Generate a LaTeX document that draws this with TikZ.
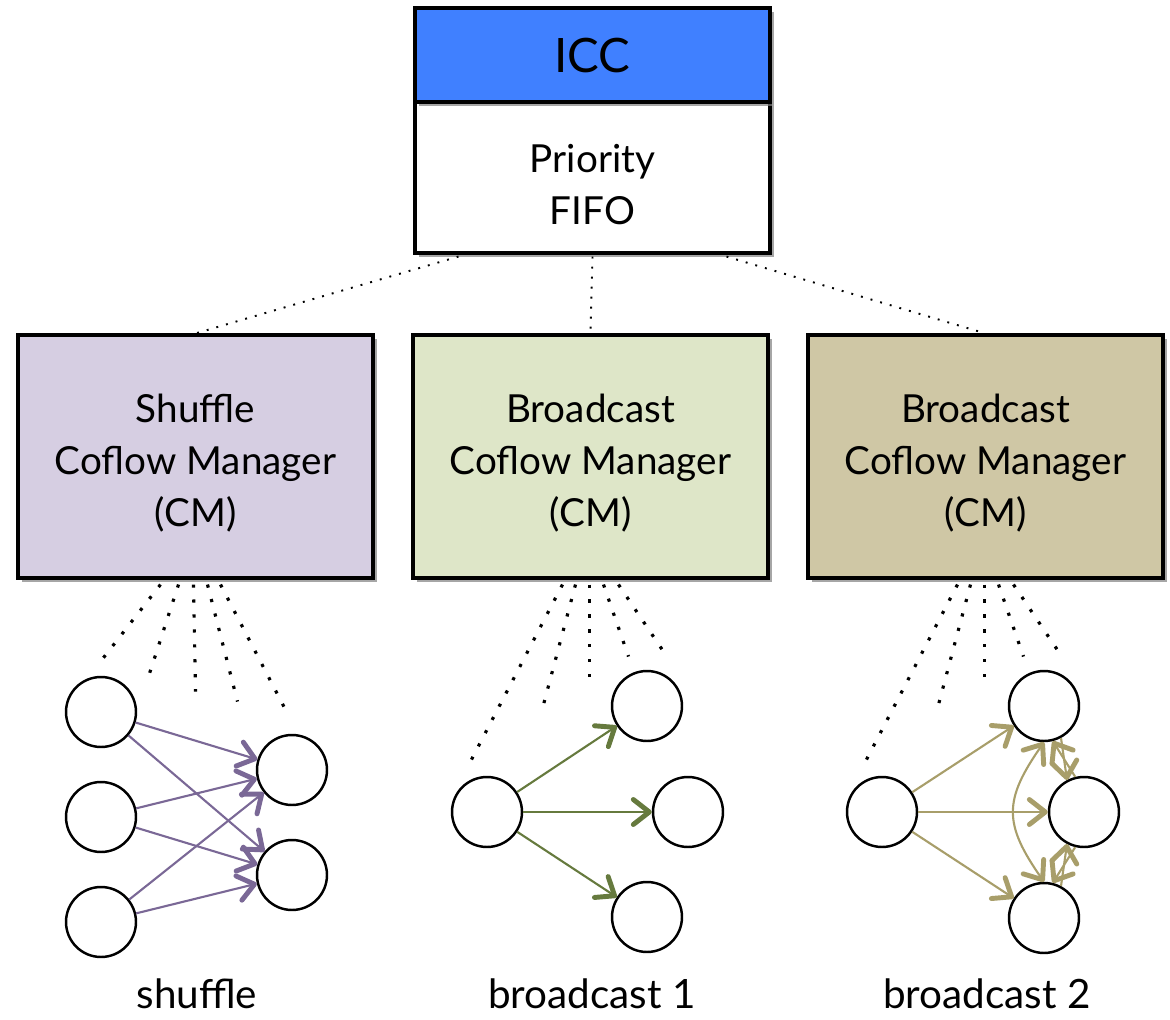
\documentclass[tikz,border=0pt]{standalone}
\usepackage{fontspec}
\setmainfont{Lato}
\usetikzlibrary{positioning,calc,shadows,arrows.meta}
\definecolor{iccblue}{RGB}{64,128,255}
\definecolor{shufflefill}{RGB}{214,206,226}
\definecolor{onefill}{RGB}{222,230,200}
\definecolor{twofill}{RGB}{207,199,165}
\definecolor{shufflecol}{RGB}{122,104,150}
\definecolor{onecol}{RGB}{102,122,62}
\definecolor{twocol}{RGB}{168,158,106}
\begin{document}
\begin{tikzpicture}[x=0.02cm,y=-0.02cm,
  every node/.style={font=\fontsize{22}{29.5}\selectfont},
  boxes/.style={rectangle,draw,line width=1.8pt,minimum width=7.1cm,minimum height=4.86cm,align=center,inner sep=0pt,drop shadow={shadow xshift=2.5pt,shadow yshift=-2.5pt,opacity=.7}},
  peer/.style={circle,draw,line width=1.4pt,fill=white,minimum size=1.4cm,inner sep=0pt},
  link/.style={line width=1.1pt,dash pattern=on 1.1pt off 4.6pt},
  fan/.style={line width=1.8pt,dash pattern=on 1.8pt off 6.7pt},
  flowtip/.tip={Straight Barb[length=3.2mm,width=5mm,line width=2.8pt,round]},
  flow/.style={draw=#1,line width=1.2pt,-flowtip},
  lbl/.style={font=\fontsize{23}{28}\selectfont},
]
\useasboundingbox (0,0) rectangle (1170,1020);

\node (policy) [boxes,minimum height=3.02cm,fill=white] at (592.5,177.5) {\rule{0pt}{24pt}Priority\\FIFO};
\node (icc) [boxes,minimum height=1.88cm,fill=iccblue,above=-1.8pt of policy,font=\fontsize{27}{32}\selectfont] {ICC};

\node (shufflecm) [boxes,fill=shufflefill] at (195.5,456.5) {\rule{0pt}{24pt}Shuffle\\Coflow Manager\\(CM)};
\node (onecm) [boxes,fill=onefill] at (590.5,456.5) {\rule{0pt}{24pt}Broadcast\\Coflow Manager\\(CM)};
\node (twocm) [boxes,fill=twofill] at (985.5,456.5) {\rule{0pt}{24pt}Broadcast\\Coflow Manager\\(CM)};

\draw[link] ($(policy.south)+(-134,2)$) -- (shufflecm.north);
\draw[link] ($(policy.south)+(0,2)$) -- (onecm.north);
\draw[link] ($(policy.south)+(134,2)$) -- (twocm.north);

\foreach \i/\sx/\ex/\ey in {1/-35/-95/82,2/-17/-48/100,3/-2/0/112,4/12/42/122,5/25/92/134}{
  \coordinate (shufflecm-end\i) at ($(shufflecm.south)+(\ex,\ey)$);
  \draw[fan] ($(shufflecm.south)+(\sx,5)$) -- (shufflecm-end\i);
}
\foreach \cm in {onecm,twocm}
  \foreach \i/\sx/\ex/\ey in {1/-28/-119/180,2/-15/-47/125,3/-1/-1/100,4/13/38/77,5/28/75/75}{
    \coordinate (\cm-end\i) at ($(\cm.south)+(\ex,\ey)$);
    \draw[fan] ($(\cm.south)+(\sx,5)$) -- (\cm-end\i);
  }

\node (shufflesrc1) [peer] at (101,712) {};
\node (shufflesrc2) [peer] at (101,817) {};
\node (shufflesrc3) [peer] at (101,922) {};
\node (shuffledst1) [peer] at (292,770) {};
\node (shuffledst2) [peer] at (292,875) {};
\foreach \i in {1,2,3}
  \foreach \j in {1,2}
    \draw[flow=shufflecol] (shufflesrc\i) -- (shuffledst\j);

\node (onesrc) [peer] at (487,812) {};
\node (onedst1) [peer] at (647,706) {};
\node (onedst2) [peer] at (688,812) {};
\node (onedst3) [peer] at (647,917) {};
\foreach \j in {1,2,3}
  \draw[flow=onecol] (onesrc) -- (onedst\j);

\node (twosrc) [peer] at (882,812) {};
\node (twodst1) [peer] at (1044,706) {};
\node (twodst2) [peer] at (1084,812) {};
\node (twodst3) [peer] at (1044,918) {};
\foreach \j in {1,2,3}
  \draw[flow=twocol] (twosrc) -- (twodst\j);
\draw[flow=twocol,flowtip-flowtip] (twodst1.south) to[bend right=35,looseness=1.3] (twodst3.north);
\draw[flow=twocol] (twodst1.-62) -- (twodst2.118);
\draw[flow=twocol] (twodst2.104) -- (twodst1.-76);
\draw[flow=twocol] (twodst2.-104) -- (twodst3.76);
\draw[flow=twocol] (twodst3.62) -- (twodst2.-118);

\node (shufflelbl) [lbl] at (197,994) {shuffle};
\node (onelbl) [lbl] at (592,994) {broadcast 1};
\node (twolbl) [lbl] at (987,994) {broadcast 2};
\end{tikzpicture}
\end{document}
